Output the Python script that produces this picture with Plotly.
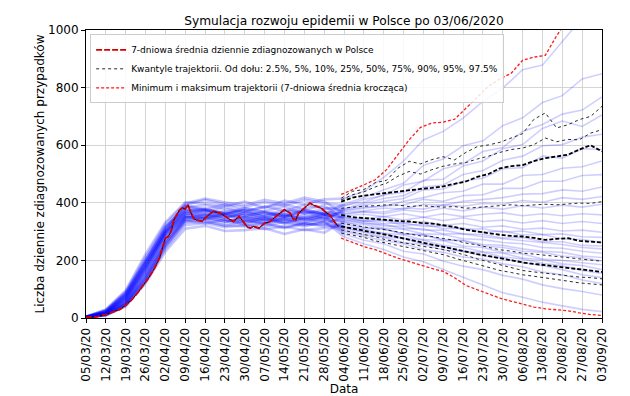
import plotly.graph_objects as go
import pandas as pd

START = pd.Timestamp("2020-03-05")

# ---- observed 7-day mean (day offset from 05/03/2020, value) ----
obs_days = [0, 4, 7, 10, 12, 14, 16, 18, 20, 22, 24, 26, 27, 28, 29, 30, 31, 33, 34, 35,
            36, 37, 38, 39, 41, 42, 44, 45, 47, 48, 50, 52, 54, 56, 57, 58, 59, 61, 63,
            65, 67, 70, 72, 73, 74, 75, 77, 79, 80, 83, 85, 86, 88, 89]
obs_vals = [2, 5, 12, 22, 30, 45, 62, 85, 110, 138, 170, 210, 245, 277, 283, 300, 341, 375, 383, 378,
            393, 365, 345, 340, 336, 347, 364, 370, 365, 360, 347, 335, 353, 329, 315, 312, 318, 312, 329,
            335, 353, 376, 364, 345, 341, 364, 381, 399, 393, 381, 364, 358, 329, 318]

# ---- simulated trajectories (weekly samples) ----
traj_days = [0, 7, 14, 21, 28, 35, 42, 49, 56, 63, 70, 77, 84, 91, 98, 105, 112, 119, 126,
             133, 140, 147, 154, 161, 168, 175, 182]
traj_01 = [5, 30, 96, 222, 332, 402, 398, 388, 404, 382, 408, 394, 412, 415, 440, 488, 545, 618, 648, 694, 752, 798, 862, 878, 958, 1042, 1098]
traj_02 = [4, 26, 88, 205, 318, 372, 380, 362, 375, 350, 368, 378, 360, 395, 418, 445, 468, 530, 552, 598, 615, 668, 695, 748, 772, 830, 848]
traj_03 = [3, 20, 76, 186, 300, 376, 368, 386, 360, 372, 386, 364, 378, 388, 412, 425, 462, 475, 518, 535, 578, 592, 648, 672, 708, 722, 768]
traj_04 = [4, 24, 84, 198, 312, 392, 410, 395, 385, 402, 390, 410, 398, 392, 402, 428, 436, 478, 482, 528, 545, 588, 602, 658, 684, 665, 705]
traj_05 = [3, 17, 68, 176, 294, 364, 352, 358, 342, 356, 362, 340, 358, 380, 398, 415, 425, 455, 462, 498, 512, 548, 562, 598, 602, 628, 638]
traj_06 = [2, 12, 50, 138, 258, 346, 362, 342, 332, 346, 328, 350, 338, 378, 392, 405, 415, 445, 448, 475, 485, 518, 522, 562, 555, 588, 585]
traj_07 = [4, 22, 80, 190, 305, 385, 392, 378, 368, 388, 372, 392, 382, 375, 385, 388, 405, 418, 435, 440, 465, 465, 495, 498, 520, 525, 545]
traj_08 = [3, 15, 62, 165, 285, 355, 372, 348, 365, 340, 352, 372, 345, 372, 380, 390, 392, 412, 405, 425, 428, 450, 450, 475, 475, 495, 498]
traj_09 = [2, 13, 55, 152, 270, 350, 345, 330, 352, 335, 345, 330, 352, 368, 372, 382, 378, 395, 392, 405, 412, 418, 430, 432, 445, 440, 455]
traj_10 = [5, 28, 92, 212, 325, 398, 415, 402, 392, 410, 398, 418, 405, 362, 370, 368, 382, 378, 392, 388, 398, 395, 408, 402, 418, 412, 422]
traj_11 = [3, 19, 72, 180, 298, 368, 378, 362, 372, 358, 375, 362, 370, 360, 368, 362, 375, 368, 382, 372, 385, 378, 390, 382, 392, 385, 395]
traj_12 = [2, 10, 44, 128, 245, 330, 338, 322, 318, 330, 315, 328, 322, 355, 360, 352, 362, 350, 362, 352, 360, 365, 355, 362, 355, 362, 358]
traj_13 = [3, 16, 65, 170, 288, 358, 350, 365, 355, 345, 360, 350, 365, 352, 345, 352, 340, 350, 338, 348, 335, 340, 330, 338, 328, 335, 328]
traj_14 = [4, 21, 78, 188, 302, 380, 372, 358, 380, 365, 352, 372, 360, 348, 338, 342, 330, 335, 322, 328, 315, 320, 308, 312, 302, 305, 298]
traj_15 = [2, 11, 46, 132, 250, 335, 348, 335, 325, 342, 330, 318, 335, 340, 338, 328, 330, 318, 320, 308, 310, 298, 302, 290, 292, 282, 280]
traj_16 = [3, 18, 70, 178, 295, 365, 358, 372, 355, 365, 350, 368, 358, 348, 335, 338, 322, 325, 310, 312, 298, 302, 288, 290, 275, 272, 262]
traj_17 = [2, 9, 40, 120, 230, 310, 320, 302, 305, 312, 292, 308, 296, 335, 332, 320, 318, 305, 305, 292, 290, 278, 280, 265, 265, 252, 250]
traj_18 = [4, 23, 82, 195, 310, 390, 378, 395, 372, 385, 395, 378, 390, 342, 328, 325, 310, 310, 292, 292, 282, 275, 268, 262, 255, 245, 240]
traj_19 = [3, 14, 58, 158, 278, 352, 342, 355, 338, 328, 345, 335, 348, 330, 325, 312, 308, 292, 290, 275, 272, 262, 258, 245, 242, 232, 225]
traj_20 = [2, 12, 52, 145, 262, 342, 335, 320, 338, 325, 312, 330, 318, 325, 312, 308, 292, 290, 272, 270, 255, 252, 240, 232, 228, 215, 210]
traj_21 = [3, 17, 66, 172, 292, 362, 375, 358, 350, 368, 355, 345, 362, 335, 315, 310, 292, 288, 270, 268, 250, 245, 232, 228, 215, 210, 198]
traj_22 = [2, 10, 42, 125, 240, 322, 330, 315, 322, 308, 318, 305, 312, 318, 308, 295, 288, 272, 268, 250, 245, 228, 222, 205, 200, 192, 185]
traj_23 = [3, 19, 74, 182, 300, 372, 362, 348, 365, 352, 340, 358, 345, 315, 300, 292, 278, 270, 252, 245, 230, 225, 208, 202, 188, 182, 168]
traj_24 = [2, 13, 54, 150, 268, 348, 358, 340, 335, 350, 332, 345, 330, 310, 298, 282, 275, 258, 248, 232, 228, 212, 205, 190, 182, 165, 155]
traj_25 = [4, 25, 86, 200, 315, 388, 375, 365, 382, 370, 358, 375, 362, 305, 290, 280, 262, 255, 236, 232, 215, 208, 192, 182, 168, 150, 140]
traj_26 = [2, 11, 47, 135, 252, 338, 328, 342, 325, 318, 335, 322, 328, 300, 285, 268, 258, 238, 228, 212, 205, 188, 178, 160, 150, 132, 120]
traj_27 = [3, 15, 60, 162, 282, 352, 345, 362, 348, 338, 352, 342, 355, 292, 270, 258, 232, 222, 198, 180, 168, 148, 135, 115, 102, 92, 80]
traj_28 = [2, 12, 50, 140, 260, 340, 352, 335, 345, 328, 342, 325, 338, 282, 258, 238, 212, 195, 168, 140, 115, 88, 72, 55, 42, 30, 22]

# ---- quantiles and min / max of trajectories ----
q_days = [90, 94, 98, 102, 106, 110, 114, 118, 122, 126, 130, 134, 138, 142, 146, 150,
          154, 158, 162, 166, 170, 174, 178, 182]
q025 = [295, 288, 280, 268, 260, 253, 245, 237, 230, 220, 208, 197, 185, 175, 165, 158, 150, 145, 140, 135, 128, 122, 118, 115]
q05 = [306, 298, 290, 282, 271, 265, 258, 250, 245, 238, 228, 218, 205, 195, 185, 175, 165, 160, 155, 150, 146, 142, 140, 136]
q10 = [318, 310, 302, 296, 289, 280, 272, 263, 255, 247, 238, 230, 222, 215, 207, 200, 193, 188, 183, 178, 174, 170, 165, 160]
q25 = [329, 322, 315, 310, 306, 298, 292, 285, 283, 276, 270, 260, 254, 245, 237, 232, 225, 222, 218, 214, 210, 206, 202, 197]
q50 = [358, 350, 347, 343, 341, 337, 335, 330, 328, 323, 316, 306, 300, 295, 289, 285, 283, 278, 271, 275, 277, 268, 266, 262]
q75 = [381, 385, 388, 390, 393, 392, 387, 390, 387, 385, 387, 381, 384, 387, 390, 393, 390, 393, 395, 393, 396, 399, 398, 404]
q90 = [404, 418, 425, 430, 433, 440, 445, 448, 452, 457, 466, 474, 490, 500, 520, 527, 531, 545, 555, 562, 567, 585, 600, 578]
q95 = [410, 428, 438, 455, 468, 492, 509, 500, 515, 527, 535, 540, 552, 562, 575, 585, 590, 602, 625, 612, 620, 619, 642, 654]
q975 = [416, 440, 446, 470, 478, 520, 544, 535, 550, 560, 549, 575, 595, 601, 610, 624, 640, 690, 712, 660, 671, 689, 700, 735]
traj_min = [277, 262, 248, 237, 222, 208, 196, 183, 172, 162, 140, 113, 98, 82, 69, 58, 47, 38, 32, 28, 25, 18, 12, 9]
traj_max = [429, 445, 462, 480, 515, 567, 619, 662, 677, 680, 690, 728, 768, 805, 830, 850, 895, 906, 912, 980, 1040, 1080, 1110, 1140]

# ---- axis ticks ----
tick_days = [0, 7, 14, 21, 28, 35, 42, 49, 56, 63, 70, 77, 84, 91, 98, 105, 112, 119, 126,
             133, 140, 147, 154, 161, 168, 175, 182]
tick_labels = ["05/03/20", "12/03/20", "19/03/20", "26/03/20", "02/04/20", "09/04/20", "16/04/20",
               "23/04/20", "30/04/20", "07/05/20", "14/05/20", "21/05/20", "28/05/20", "04/06/20",
               "11/06/20", "18/06/20", "25/06/20", "02/07/20", "09/07/20", "16/07/20", "23/07/20",
               "30/07/20", "06/08/20", "13/08/20", "20/08/20", "27/08/20", "03/09/20"]

TITLE = "Symulacja rozwoju epidemii w Polsce po 03/06/2020"
Y_TITLE = "Liczba dziennie zdiagnozowanych przypadków"
X_TITLE = "Data"
LEG_OBS = "7-dniowa średnia dziennie zdiagnozowanych w Polsce"
LEG_Q = "Kwantyle trajektorii. Od dołu: 2.5%, 5%, 10%, 25%, 50%, 75%, 90%, 95%, 97.5%"
LEG_MM = "Minimum i maksimum trajektorii (7-dniowa średnia krocząca)"

SPLIT = 13  # index of 04/06 in traj_days: past part vs simulated future part


def to_dates(days):
    return [START + pd.Timedelta(days=d) for d in days]


fig = go.Figure()

trajectories = [traj_01, traj_02, traj_03, traj_04, traj_05, traj_06, traj_07, traj_08,
                traj_09, traj_10, traj_11, traj_12, traj_13, traj_14, traj_15, traj_16,
                traj_17, traj_18, traj_19, traj_20, traj_21, traj_22, traj_23, traj_24,
                traj_25, traj_26, traj_27, traj_28]
tx = to_dates(traj_days)
for t in trajectories:
    fig.add_trace(go.Scatter(x=tx[:SPLIT + 1], y=t[:SPLIT + 1], mode="lines",
                             line=dict(color="rgba(0,0,255,0.22)", width=2.6),
                             showlegend=False, hoverinfo="skip"))
    fig.add_trace(go.Scatter(x=tx[SPLIT:len(t)], y=t[SPLIT:], mode="lines",
                             line=dict(color="rgba(0,0,255,0.19)", width=1.6),
                             showlegend=False, hoverinfo="skip"))

qx = to_dates(q_days)
thin = dict(color="rgba(20,20,20,0.9)", width=1.0, dash="dot")
thick = dict(color="black", width=1.8, dash="4px,2px")
quant = [(q025, thin), (q05, thin), (q10, thick), (q25, thin), (q50, thick),
         (q75, thin), (q90, thick), (q95, thin), (q975, thin)]
for i, (q, st) in enumerate(quant):
    fig.add_trace(go.Scatter(x=qx, y=q, mode="lines", line=st,
                             name=LEG_Q, showlegend=(i == 0), legendrank=2,
                             hoverinfo="skip"))

mm_style = dict(color="#ff1a1a", width=1.3, dash="3px,2px")
fig.add_trace(go.Scatter(x=qx, y=traj_min, mode="lines", line=mm_style, name=LEG_MM,
                         showlegend=True, legendrank=3))
fig.add_trace(go.Scatter(x=qx, y=traj_max, mode="lines", line=mm_style, name=LEG_MM,
                         showlegend=False))

ox = to_dates(obs_days)
fig.add_trace(go.Scatter(x=ox, y=obs_vals, mode="lines",
                         line=dict(color="black", width=1.0), showlegend=False))
fig.add_trace(go.Scatter(x=ox, y=obs_vals, mode="lines",
                         line=dict(color="#d40000", width=1.8, dash="6px,2px"),
                         name=LEG_OBS, showlegend=True, legendrank=1))

fig.update_layout(
    width=630, height=396,
    margin=dict(l=78, r=36, t=22, b=86),
    paper_bgcolor="white", plot_bgcolor="white",
    font=dict(family="DejaVu Sans", color="black", size=12),
    title=dict(text=TITLE, x=0.5, xref="paper", xanchor="center",
               y=0.968, yref="container", yanchor="middle",
               font=dict(size=12.2, color="black")),
    legend=dict(x=0.008, y=0.985, xanchor="left", yanchor="top",
                bgcolor="rgba(255,255,255,0.85)", bordercolor="#cccccc", borderwidth=1,
                font=dict(size=9), tracegroupgap=0),
    showlegend=True,
)
fig.update_xaxes(
    type="date", range=[tx[0], tx[-1]], automargin=False,
    tickvals=to_dates(tick_days), ticktext=tick_labels, tickangle=-90,
    tickfont=dict(size=12), ticks="outside", ticklen=4, tickcolor="black",
    showline=True, linecolor="black", linewidth=1, mirror=True,
    showgrid=True, gridcolor="#d4d4d4", gridwidth=1, zeroline=False,
    title=dict(text=X_TITLE, font=dict(size=12), standoff=3),
)
fig.update_yaxes(
    range=[0, 1000], tickvals=[0, 200, 400, 600, 800, 1000], automargin=False,
    tickfont=dict(size=12), ticks="outside", ticklen=4, tickcolor="black",
    showline=True, linecolor="black", linewidth=1, mirror=True,
    showgrid=True, gridcolor="#d4d4d4", gridwidth=1, zeroline=False,
    title=dict(text=Y_TITLE, font=dict(size=12), standoff=0),
)

fig.write_html("out.html")
